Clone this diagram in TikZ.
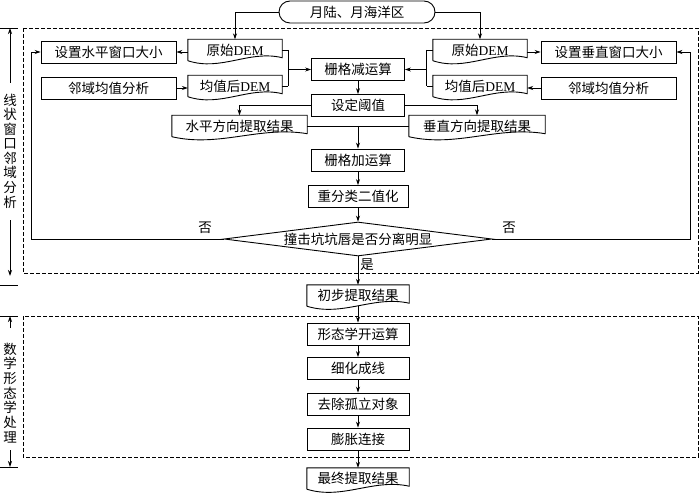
\documentclass[tikz,border=0pt]{standalone}
\usepackage{fontspec}
\setmainfont{Noto Sans CJK SC}
\newfontfamily\lat{Liberation Serif}
\usetikzlibrary{arrows.meta,shapes.geometric,calc}
\begin{document}
\begin{tikzpicture}[x=1pt,y=-1pt,
  every node/.style={font=\fontsize{13.5pt}{15pt}\selectfont, inner sep=0pt},
  box/.style={draw, line width=0.9pt, minimum height=22pt, minimum width=#1},
  doc/.style={minimum height=21pt, minimum width=#1},
  arr/.style={-{Stealth[length=6pt,width=4pt]}, line width=0.8pt},
  ln/.style={line width=0.8pt},
  dbox/.style={dash pattern=on 4pt off 2pt, line width=0.8pt}]
\useasboundingbox (0,0) rectangle (700,497);

% dashed frames
\draw[dbox] (23,28) rectangle (698,273);
\draw[dbox] (23,316) rectangle (698,457);

% nodes
\node[draw, line width=0.9pt, rounded corners=11pt, minimum width=156pt, minimum height=22pt] (top) at (357,12) {月陆、月海洋区};
\node[box=135pt] (hsize) at (108.5,52) {设置水平窗口大小};
\node[doc=94pt] (horig) at (235,50) {原始{\lat DEM}};
\node[box=135pt] (hmean) at (108.5,88) {邻域均值分析};
\node[doc=94pt] (havg) at (235,86) {均值后{\lat DEM}};
\node[box=93pt] (sub) at (358,69.5) {栅格减运算};
\node[doc=94pt] (vorig) at (480,50) {原始{\lat DEM}};
\node[doc=94pt] (vavg) at (480,86) {均值后{\lat DEM}};
\node[box=135pt] (vsize) at (608.5,52) {设置垂直窗口大小};
\node[box=135pt] (vmean) at (608.5,88) {邻域均值分析};
\node[box=93pt] (thr) at (358,105.5) {设定阈值};
\node[doc=135pt] (hres) at (239.5,126) {水平方向提取结果};
\node[doc=136pt] (vres) at (477,126) {垂直方向提取结果};
\node[box=93pt] (add) at (358,160) {栅格加运算};
\node[box=100pt] (rec) at (358,196.5) {重分类二值化};
\node[draw, diamond, aspect=7.9, minimum width=268pt, minimum height=34pt, line width=0.9pt] (dia) at (358,239) {撞击坑坑唇是否分离明显};
\node[doc=102pt] (init) at (358,295.5) {初步提取结果};
\node[box=102pt] (open) at (358,334) {形态学开运算};
\node[box=102pt] (thin) at (358,368.5) {细化成线};
\node[box=102pt] (remv) at (358,404) {去除孤立对象};
\node[box=102pt] (dil) at (358,439) {膨胀连接};
\node[doc=102pt] (final) at (358,478.5) {最终提取结果};

% document outlines
\foreach \n in {horig,havg,vorig,vavg,hres,vres,init,final}
  \draw[line width=0.9pt] (\n.south west) -- (\n.north west) -- (\n.north east) -- ($(\n.south east)+(0,3pt)$)
    .. controls ($(\n.south west)!0.65!(\n.south east)+(0,11pt)$) and ($(\n.south west)!0.35!(\n.south east)+(0,-11pt)$) .. (\n.south west);

% labels
\node (nol) at (205,228) {否};
\node (nor) at (509,228) {否};
\node (yes) at (367,265) {是};

% connectors
\draw[arr] (top.west) -| (horig.north);
\draw[arr] (top.east) -| (vorig.north);
\draw[arr] (horig.west |- hsize.east) -- (hsize.east);
\draw[arr] (hmean.east) -- (hmean.east -| havg.west);
\draw[arr] (vorig.east |- vsize.west) -- (vsize.west);
\draw[arr] (vmean.west) -- (vmean.west -| vavg.east);
\draw[ln] (horig.east) -- ++(6,0) coordinate (hb1);
\draw[ln] (havg.east) -- ++(6,0) coordinate (hb2);
\draw[ln] (hb1) -- (hb2);
\draw[arr] (hb1 |- sub.west) -- (sub.west);
\draw[ln] (vorig.west) -- ++(-6,0) coordinate (vb1);
\draw[ln] (vavg.west) -- ++(-6,0) coordinate (vb2);
\draw[ln] (vb1) -- (vb2);
\draw[arr] (vb1 |- sub.east) -- (sub.east);
\draw[arr] (sub.south) -- (thr.north);
\draw[arr] (thr.west) -| (hres.north);
\draw[arr] (thr.east) -| (vres.north);
\coordinate (jn) at (hres.east -| add.north);
\draw[ln] (hres.east) -- (jn);
\draw[ln] (vres.west) -- (jn);
\draw[arr] (jn) -- (add.north);
\draw[arr] (add.south) -- (rec.north);
\draw[arr] (rec.south) -- (dia.north);
\coordinate (lret) at (31,239);
\coordinate (rret) at (690,239);
\draw[arr] (dia.west) -- (lret) |- (hsize.west);
\draw[arr] (dia.east) -- (rret) |- (vsize.east);
\draw[arr] (dia.south) -- (init.north);
\draw[arr] (init.south) -- (open.north);
\draw[arr] (open.south) -- (thin.north);
\draw[arr] (thin.south) -- (remv.north);
\draw[arr] (remv.south) -- (dil.north);
\draw[arr] (dil.south) -- (final.north);

% left annotations
\draw[ln] (0,28) -- (18,28);
\draw[arr] (10,83) -- (10,28);
\foreach [count=\i from 0] \c in {线,状,窗,口,邻,域,分,析}
  \node (ua\i) at (10,100+\i*14.57) {\c};
\draw[arr] (10,220) -- (10,276);
\draw[ln] (0,285) -- (18,285);
\draw[ln] (0,316) -- (18,316);
\draw[arr] (10,328) -- (10,316);
\foreach [count=\i from 0] \c in {数,学,形,态,学,处,理}
  \node (la\i) at (10,349+\i*14.67) {\c};
\draw[arr] (10,450) -- (10,467);
\draw[ln] (0,467) -- (18,467);
\end{tikzpicture}
\end{document}
